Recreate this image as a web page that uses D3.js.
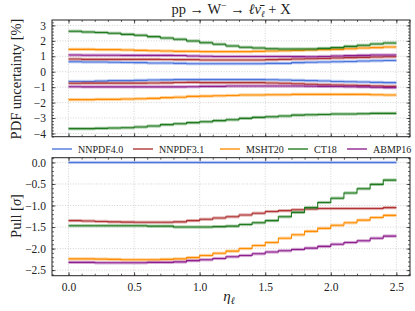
<!DOCTYPE html>
<html>
<head>
<meta charset="utf-8">
<script src="https://cdn.jsdelivr.net/npm/d3@7"></script>
<style>
  body { margin: 0; background: #fff; }
  text { font-family: "Liberation Serif", "DejaVu Serif", serif; fill: #222; }
</style>
</head>
<body>
<svg id="chart" width="415" height="311"></svg>
<script>
// bin edges in eta_l
const etaEdges = [0.0, 0.1, 0.2, 0.3, 0.4, 0.5, 0.6, 0.7, 0.8, 0.9, 1.0, 1.1, 1.2,
  1.3, 1.4, 1.5, 1.6, 1.7, 1.8, 1.9, 2.0, 2.1, 2.2, 2.3, 2.4, 2.5];

const pdfSets = ["NNPDF4.0", "NNPDF3.1", "MSHT20", "CT18", "ABMP16"];
const colors = ["#4a74dc", "#b03232", "#ff8c00", "#1f7a1f", "#8e1e8e"];

// PDF uncertainty [%], upper and lower edges (one value per bin)
const upNNPDF40 = [0.65, 0.63, 0.63, 0.61, 0.60, 0.59, 0.56, 0.56, 0.54, 0.52, 0.52, 0.52, 0.52,
  0.52, 0.52, 0.54, 0.54, 0.59, 0.61, 0.63, 0.65, 0.66, 0.69, 0.71, 0.73];
const loNNPDF40 = [-0.63, -0.63, -0.61, -0.58, -0.58, -0.56, -0.54, -0.53, -0.51, -0.51, -0.51, -0.51, -0.51,
  -0.51, -0.51, -0.52, -0.54, -0.56, -0.58, -0.60, -0.63, -0.65, -0.67, -0.69, -0.71];
const upNNPDF31 = [0.82, 0.80, 0.80, 0.80, 0.80, 0.80, 0.80, 0.79, 0.78, 0.78, 0.76, 0.76, 0.76,
  0.76, 0.76, 0.78, 0.80, 0.82, 0.84, 0.86, 0.89, 0.91, 0.93, 0.95, 0.97];
const loNNPDF31 = [-0.75, -0.74, -0.74, -0.74, -0.74, -0.74, -0.73, -0.72, -0.70, -0.69, -0.71, -0.71, -0.71,
  -0.71, -0.71, -0.73, -0.75, -0.78, -0.81, -0.84, -0.86, -0.88, -0.90, -0.93, -0.95];
const upMSHT20 = [1.45, 1.45, 1.43, 1.43, 1.41, 1.38, 1.36, 1.34, 1.32, 1.32, 1.30, 1.30, 1.30,
  1.30, 1.32, 1.34, 1.36, 1.38, 1.41, 1.43, 1.45, 1.49, 1.54, 1.56, 1.60];
const loMSHT20 = [-1.81, -1.81, -1.79, -1.79, -1.77, -1.75, -1.73, -1.68, -1.65, -1.60, -1.58, -1.56, -1.54,
  -1.51, -1.51, -1.49, -1.49, -1.47, -1.47, -1.47, -1.47, -1.47, -1.47, -1.49, -1.51];
const upCT18 = [2.62, 2.57, 2.54, 2.49, 2.42, 2.36, 2.27, 2.18, 2.10, 1.99, 1.88, 1.78, 1.67,
  1.58, 1.54, 1.49, 1.47, 1.47, 1.47, 1.51, 1.56, 1.64, 1.71, 1.80, 1.86];
const loCT18 = [-3.69, -3.69, -3.67, -3.65, -3.63, -3.58, -3.52, -3.43, -3.37, -3.30, -3.24, -3.17, -3.11,
  -3.02, -2.96, -2.92, -2.87, -2.81, -2.79, -2.77, -2.74, -2.74, -2.72, -2.70, -2.70];
const upABMP16 = [1.08, 1.07, 1.07, 1.07, 1.06, 1.06, 1.06, 1.06, 1.05, 1.02, 1.00, 0.99, 0.99,
  0.99, 0.99, 0.99, 0.99, 0.98, 0.97, 0.99, 1.02, 1.04, 1.06, 1.08, 1.08];
const loABMP16 = [-0.97, -0.98, -0.98, -0.98, -0.98, -0.98, -0.98, -0.98, -0.98, -0.97, -0.95, -0.95, -0.93,
  -0.93, -0.93, -0.93, -0.93, -0.93, -0.94, -0.95, -0.96, -0.97, -0.98, -1.01, -1.03];

// Pull [sigma] w.r.t. NNPDF4.0
const pullNNPDF40 = [0, 0, 0, 0, 0, 0, 0, 0, 0, 0, 0, 0, 0, 0, 0, 0, 0, 0, 0, 0, 0, 0, 0, 0, 0];
const pullNNPDF31 = [-1.35, -1.36, -1.37, -1.38, -1.385, -1.39, -1.39, -1.39, -1.38, -1.35, -1.32, -1.29, -1.26,
  -1.22, -1.18, -1.14, -1.12, -1.10, -1.08, -1.07, -1.07, -1.07, -1.07, -1.07, -1.05];
const pullMSHT20 = [-2.24, -2.24, -2.245, -2.25, -2.26, -2.26, -2.26, -2.25, -2.24, -2.21, -2.16, -2.11, -2.06,
  -2.00, -1.93, -1.86, -1.76, -1.68, -1.60, -1.53, -1.46, -1.40, -1.34, -1.28, -1.23];
const pullCT18 = [-1.47, -1.47, -1.47, -1.47, -1.47, -1.47, -1.48, -1.48, -1.50, -1.50, -1.50, -1.49, -1.48,
  -1.44, -1.40, -1.35, -1.26, -1.16, -1.05, -0.93, -0.83, -0.71, -0.61, -0.51, -0.41];
const pullABMP16 = [-2.32, -2.32, -2.33, -2.33, -2.33, -2.33, -2.32, -2.32, -2.31, -2.28, -2.26, -2.23, -2.19,
  -2.16, -2.12, -2.08, -2.05, -2.02, -1.99, -1.95, -1.90, -1.86, -1.82, -1.76, -1.71];

const uncSeries = [
  [upNNPDF40, loNNPDF40], [upNNPDF31, loNNPDF31], [upMSHT20, loMSHT20],
  [upCT18, loCT18], [upABMP16, loABMP16]
];
const pullSeries = [pullNNPDF40, pullNNPDF31, pullMSHT20, pullCT18, pullABMP16];

const topTicks = [3, 2, 1, 0, -1, -2, -3, -4];
const pullTicks = [0, -0.5, -1, -1.5, -2, -2.5];
const etaTicks = [0, 0.5, 1, 1.5, 2, 2.5];

const svg = d3.select("#chart");
const left = 52, right = 410;

const x = d3.scaleLinear().domain([-0.126, 2.604]).range([left, right]);
const yTop = d3.scaleLinear().domain([-4.21, 3.35]).range([136.7, 20]);
const yBot = d3.scaleLinear().domain([-2.63, 0.11]).range([275.7, 157.7]);

const fmt = d => d3.format(".1f")(d).replace("-", "\u2212");
const fmtInt = d => String(d).replace("-", "\u2212");

function stepPoints(vals) {
  const pts = vals.map((v, i) => [etaEdges[i], v]);
  pts.push([etaEdges[etaEdges.length - 1], vals[vals.length - 1]]);
  return pts;
}

function drawPanel(y, yTicks, yMinorStep, tickFmt, showX) {
  const [y0, y1] = y.range();
  const g = svg.append("g");

  // grid
  g.selectAll(".gx").data(etaTicks).enter().append("line")
    .attr("x1", d => x(d)).attr("x2", d => x(d)).attr("y1", y1).attr("y2", y0)
    .attr("stroke", "#c8c8c8").attr("stroke-width", 0.8).attr("stroke-dasharray", "1,1.6");
  g.selectAll(".gy").data(yTicks).enter().append("line")
    .attr("x1", left).attr("x2", right).attr("y1", d => y(d)).attr("y2", d => y(d))
    .attr("stroke", "#c8c8c8").attr("stroke-width", 0.8).attr("stroke-dasharray", "1,1.6");

  const plot = g.append("g");

  // ticks (inward, all sides)
  const dom = y.domain();
  const yMinor = d3.range(Math.ceil(dom[0] / yMinorStep) * yMinorStep, dom[1], yMinorStep);
  const xMinor = d3.range(0, 2.61, 0.1);
  const axes = g.append("g");
  axes.append("g").attr("transform", `translate(${left},0)`)
    .call(d3.axisLeft(y).tickValues(yMinor).tickSize(-2).tickFormat(""));
  axes.append("g").attr("transform", `translate(${right},0)`)
    .call(d3.axisRight(y).tickValues(yMinor).tickSize(-2).tickFormat(""));
  axes.append("g").attr("transform", `translate(0,${y0})`)
    .call(d3.axisBottom(x).tickValues(xMinor).tickSize(-2).tickFormat(""));
  axes.append("g").attr("transform", `translate(0,${y1})`)
    .call(d3.axisTop(x).tickValues(xMinor).tickSize(-2).tickFormat(""));

  axes.append("g").attr("transform", `translate(${left},0)`)
    .call(d3.axisLeft(y).tickValues(yTicks).tickSize(-3.5).tickPadding(6).tickFormat(tickFmt));
  axes.append("g").attr("transform", `translate(${right},0)`)
    .call(d3.axisRight(y).tickValues(yTicks).tickSize(-3.5).tickFormat(""));
  axes.append("g").attr("transform", `translate(0,${y0})`)
    .call(d3.axisBottom(x).tickValues(etaTicks).tickSize(-3.5).tickPadding(7)
      .tickFormat(showX ? fmt : ""));
  axes.append("g").attr("transform", `translate(0,${y1})`)
    .call(d3.axisTop(x).tickValues(etaTicks).tickSize(-3.5).tickFormat(""));

  axes.selectAll(".domain").remove();
  axes.selectAll(".tick line").attr("stroke", "#222").attr("stroke-width", 0.7);
  axes.selectAll(".tick text").attr("font-size", 11.5)
    .attr("font-family", "Liberation Serif, serif").attr("fill", "#222");

  g.append("rect").attr("x", left).attr("y", y1).attr("width", right - left).attr("height", y0 - y1)
    .attr("fill", "none").attr("stroke", "#222").attr("stroke-width", 1);

  return plot;
}

function drawStep(plot, y, vals, color) {
  // light band per bin
  plot.append("g").selectAll("rect").data(vals).enter().append("rect")
    .attr("x", (d, i) => x(etaEdges[i]))
    .attr("width", (d, i) => x(etaEdges[i + 1]) - x(etaEdges[i]))
    .attr("y", d => y(d) - 1.6).attr("height", 3.2)
    .attr("fill", color).attr("opacity", 0.4);
  plot.append("path").datum(stepPoints(vals))
    .attr("d", d3.line().x(d => x(d[0])).y(d => y(d[1])).curve(d3.curveStepAfter))
    .attr("fill", "none").attr("stroke", color).attr("stroke-width", 1.1);
}

const topPlot = drawPanel(yTop, topTicks, 0.2, fmtInt, false);
uncSeries.forEach((pair, k) => {
  drawStep(topPlot, yTop, pair[0], colors[k]);
  drawStep(topPlot, yTop, pair[1], colors[k]);
});

const botPlot = drawPanel(yBot, pullTicks, 0.1, fmt, true);
pullSeries.forEach((vals, k) => drawStep(botPlot, yBot, vals, colors[k]));

// title and labels
svg.append("text").attr("x", 231).attr("y", 14).attr("text-anchor", "middle")
  .attr("font-size", 14.5)
  .html('pp \u2192 W<tspan dy="-5" font-size="10">\u2212</tspan><tspan dy="5"> \u2192 </tspan><tspan font-style="italic">\u2113</tspan><tspan font-style="italic">\u03BD\u0304</tspan><tspan dy="3" font-size="9" font-style="italic">\u2113</tspan><tspan dy="-3"> + X</tspan>');

svg.append("text").attr("transform", `translate(21,79) rotate(-90)`)
  .attr("text-anchor", "middle").attr("font-size", 14.5).text("PDF uncertainty [%]");
svg.append("text").attr("transform", `translate(21,216) rotate(-90)`)
  .attr("text-anchor", "middle").attr("font-size", 14.5)
  .html('Pull [<tspan font-style="italic">\u03C3</tspan>]');

svg.append("text").attr("x", 229).attr("y", 301).attr("text-anchor", "middle")
  .attr("font-size", 15).attr("font-style", "italic")
  .html('\u03B7<tspan dy="3" font-size="10">\u2113</tspan>');

// legend
const legendX = [52, 133, 220, 288, 347];
const legend = svg.append("g").selectAll("g").data(pdfSets).enter().append("g")
  .attr("transform", (d, i) => `translate(${legendX[i]},149)`);
legend.append("line").attr("x1", 0).attr("x2", 20).attr("y1", 0).attr("y2", 0)
  .attr("stroke", (d, i) => colors[i]).attr("stroke-width", 1.8).attr("opacity", 0.75);
legend.append("text").attr("x", 26).attr("y", 3.5).attr("font-size", 10).text(d => d);
</script>
</body>
</html>
